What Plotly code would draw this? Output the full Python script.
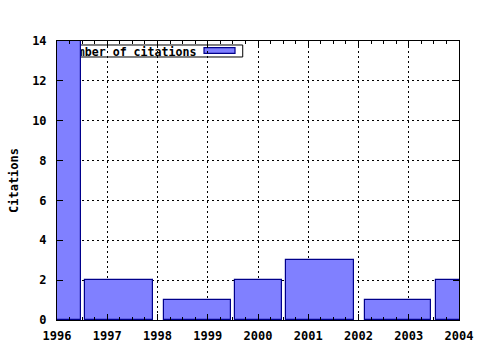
import plotly.graph_objects as go

# Data
bar_centers = [1996.01, 1997.24, 1998.79, 2000.01, 2001.24, 2002.785, 2004.0]
bar_widths = [0.92, 1.36, 1.34, 0.92, 1.36, 1.33, 0.90]
citations = [14, 2, 1, 2, 3, 1, 2]
year_ticks = [1996, 1997, 1998, 1999, 2000, 2001, 2002, 2003, 2004]
y_ticks = [0, 2, 4, 6, 8, 10, 12, 14]
series_name = "Number of citations"

FONT = "DejaVu Sans Mono"
FILL = "#8080ff"
EDGE = "#00008b"

fig = go.Figure()
fig.add_trace(go.Bar(
    x=bar_centers, y=citations, width=bar_widths, name=series_name,
    marker=dict(color=FILL, line=dict(color=EDGE, width=1.2)),
    showlegend=False,
))

axis_common = dict(
    showline=True, linecolor="black", linewidth=1, mirror="ticks",
    ticks="inside", ticklen=6, tickcolor="black", tickwidth=1,
    showgrid=True, gridcolor="black", gridwidth=1, griddash="2px,3px",
    zeroline=False, automargin=False,
    tickfont=dict(family=FONT, size=12, color="black", weight="bold"),
)

fig.update_xaxes(
    range=[1996, 2004], tickmode="array", tickvals=year_ticks,
    ticktext=[str(v) for v in year_ticks], ticklabelstandoff=5,
    minor=dict(ticks="inside", ticklen=3, dtick=0.25, tick0=1996,
               tickcolor="black", showgrid=False),
    **axis_common,
)
fig.update_yaxes(
    range=[0, 14], tickmode="array", tickvals=y_ticks,
    ticktext=[str(v) for v in y_ticks], ticklabelstandoff=7,
    title=dict(text="Citations", font=dict(family=FONT, size=12, color="black", weight="bold"), standoff=10),
    **axis_common,
)

# Legend box (drawn beneath bars, as in the reference)
fig.add_shape(
    type="rect", xref="paper", yref="paper", layer="between",
    x0=0.002, x1=0.462, y0=0.9427, y1=0.9857,
    line=dict(color="black", width=1), fillcolor="white",
    label=dict(text=series_name, textposition="middle left",
               font=dict(family=FONT, size=11.6, color="black", weight="bold"),
               padding=3),
)
fig.add_shape(
    type="rect", xref="paper", yref="paper", layer="between",
    x0=0.3657, x1=0.4428, y0=0.956, y1=0.976,
    line=dict(color=EDGE, width=1.2), fillcolor=FILL,
)

fig.update_layout(
    width=480, height=350,
    margin=dict(l=57, r=21, t=41, b=30, autoexpand=False),
    paper_bgcolor="white", plot_bgcolor="white",
    bargap=0,
    font=dict(family=FONT, size=12, color="black"),
)

fig.write_html("out.html")
